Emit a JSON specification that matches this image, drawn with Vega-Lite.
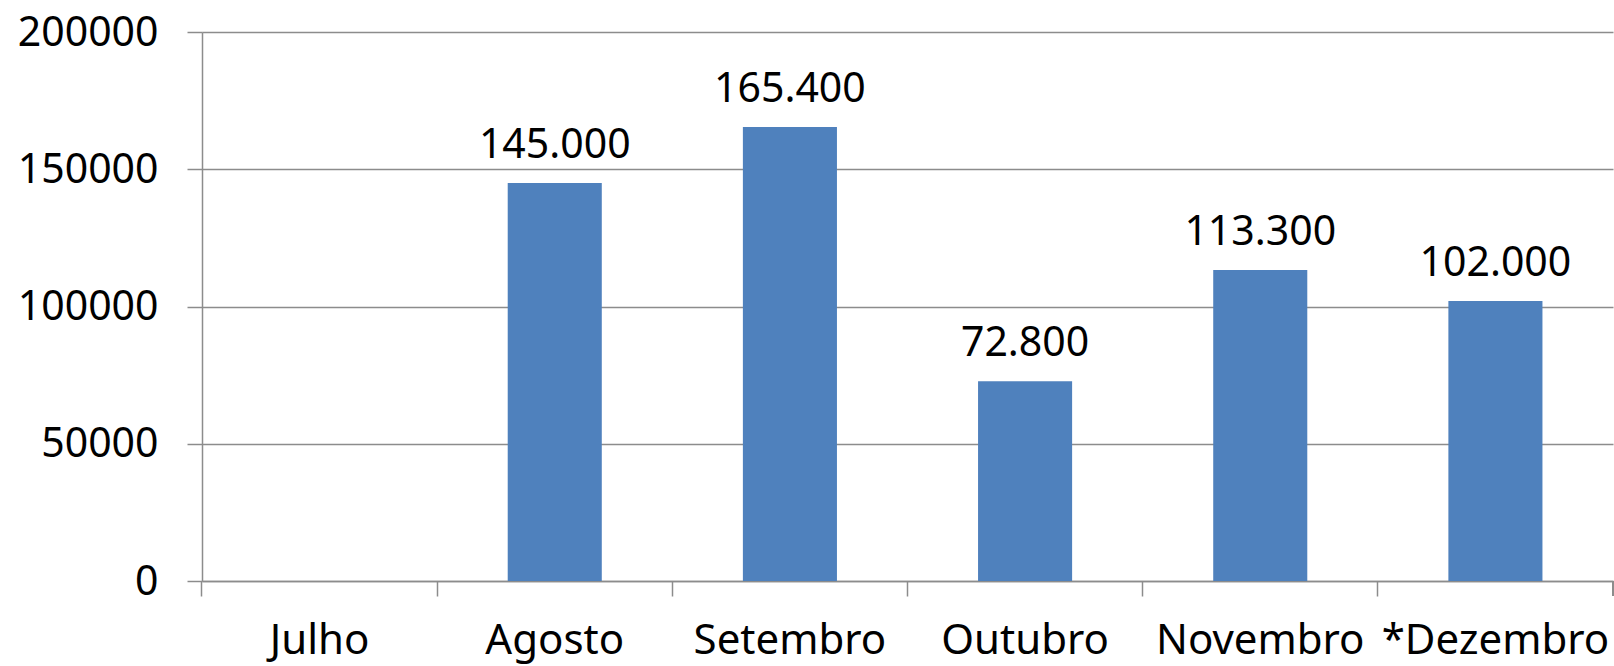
{
  "$schema": "https://vega.github.io/schema/vega-lite/v6.json",
  "autosize": "none",
  "width": 1411,
  "height": 549,
  "padding": {"left": 202, "top": 32, "right": 1, "bottom": 85},
  "background": "white",
  "config": {
    "view": {"stroke": null},
    "locale": {"number": {"decimal": ",", "thousands": ".", "grouping": [3], "currency": ["R$", ""]}},
    "font": "Noto Sans"
  },
  "data": {
    "values": [
      {"mes": "Julho", "valor": null},
      {"mes": "Agosto", "valor": 145000},
      {"mes": "Setembro", "valor": 165400},
      {"mes": "Outubro", "valor": 72800},
      {"mes": "Novembro", "valor": 113300},
      {"mes": "*Dezembro", "valor": 102000}
    ]
  },
  "encoding": {
    "x": {
      "field": "mes",
      "type": "nominal",
      "sort": null,
      "scale": {"domain": ["Julho", "Agosto", "Setembro", "Outubro", "Novembro", "*Dezembro"], "paddingInner": 0.6, "paddingOuter": 0.3},
      "axis": {
        "title": null,
        "labelAngle": 0,
        "labelFont": "Noto Sans",
        "labelFontSize": 42,
        "labelColor": "#000000",
        "labelBaseline": "alphabetic",
        "labelPadding": 57,
        "labelLimit": 0,
        "tickSize": 15,
        "tickColor": "#8c8c8c",
        "tickWidth": 1.5,
        "bandPosition": -0.75,
        "domainColor": "#8c8c8c",
        "domainWidth": 1.5,
        "grid": false,
        "labelOverlap": false
      }
    },
    "y": {
      "field": "valor",
      "type": "quantitative",
      "scale": {"domain": [0, 200000], "nice": false, "zero": true},
      "axis": {
        "title": null,
        "values": [0, 50000, 100000, 150000, 200000],
        "format": "d",
        "labelFont": "Noto Sans",
        "labelFontSize": 41,
        "labelColor": "#000000",
        "labelPadding": 29,
        "labelOffset": 1,
        "labelLimit": 0,
        "tickSize": 15,
        "tickColor": "#8c8c8c",
        "tickWidth": 1.5,
        "domainColor": "#8c8c8c",
        "domainWidth": 1.5,
        "grid": true,
        "gridColor": "#8c8c8c",
        "gridWidth": 1.5,
        "labelOverlap": false
      }
    }
  },
  "layer": [
    {
      "mark": {"type": "bar", "color": "#4F81BD"}
    },
    {
      "transform": [{"filter": "datum.valor != null"}],
      "mark": {"type": "text", "baseline": "alphabetic", "align": "center", "dy": -25, "fontSize": 41, "font": "Noto Sans", "color": "#000000"},
      "encoding": {
        "text": {"field": "valor", "type": "quantitative", "format": ",d"}
      }
    },
    {
      "mark": {"type": "rule", "color": "#8c8c8c", "strokeWidth": 1.5},
      "encoding": {
        "x": {"datum": "*Dezembro", "bandPosition": 1.75},
        "y": {"datum": 0},
        "y2": {"datum": -5464}
      }
    }
  ]
}
